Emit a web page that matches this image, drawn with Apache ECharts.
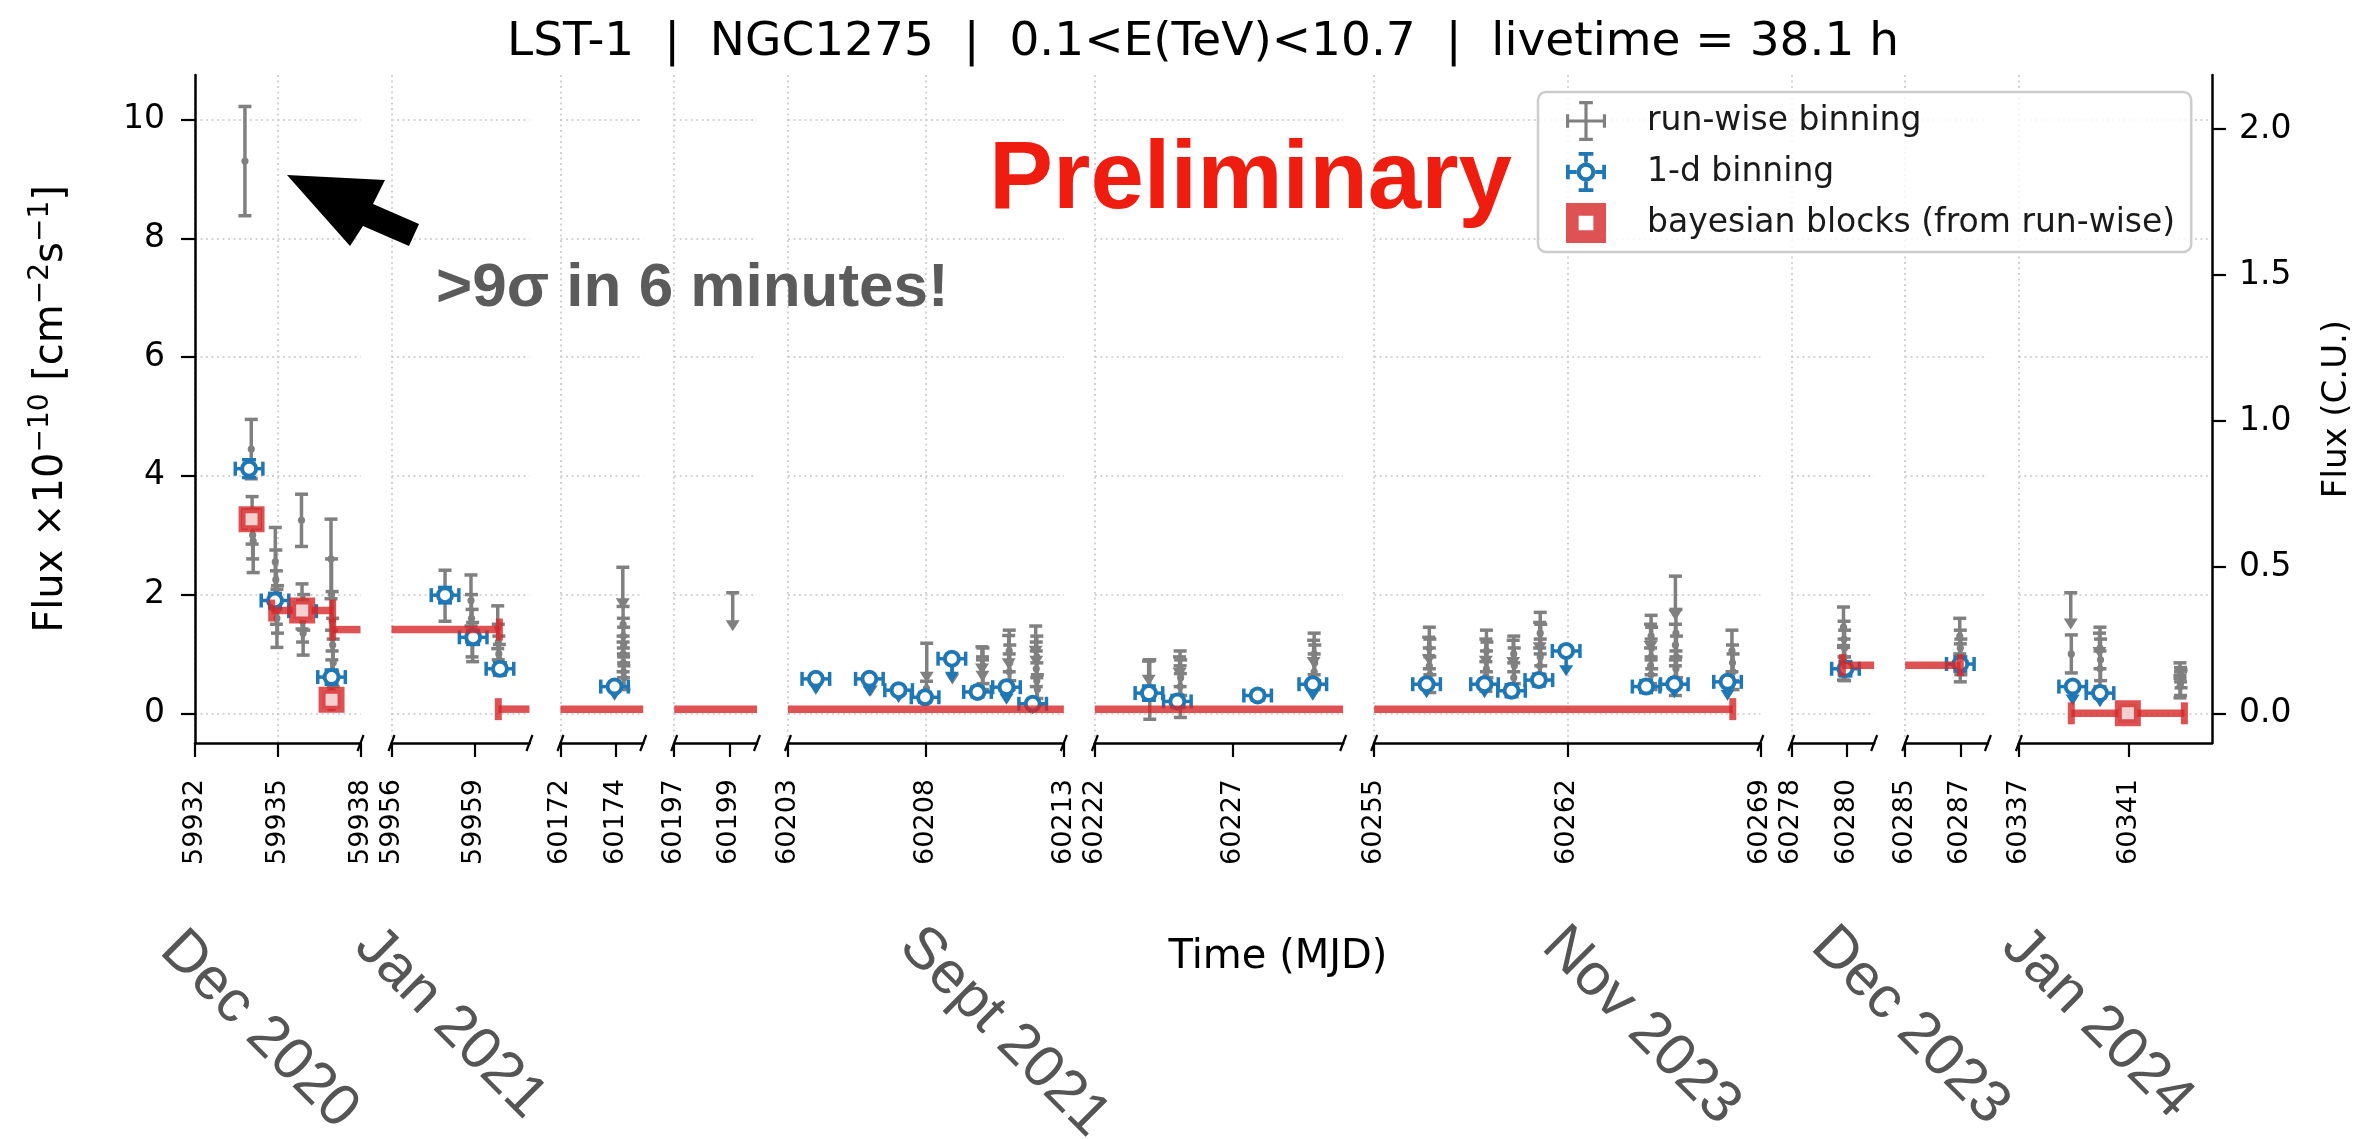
<!DOCTYPE html>
<html lang="en">
<head>
<meta charset="utf-8">
<title>LST-1 NGC1275 light curve</title>
<script src="https://cdn.jsdelivr.net/npm/echarts@6/dist/echarts.min.js"></script>
<style>
  html, body { margin: 0; padding: 0; background: #ffffff; }
  #chart { width: 2372px; height: 1139px; }
</style>
</head>
<body>
<div id="chart"></div>
<script>
// ---------------------------------------------------------------------------
// Data
// ---------------------------------------------------------------------------
// Observation windows (MJD), each drawn as one panel of a broken time axis
const panelStart = [59932, 59956, 60172, 60197, 60203, 60222, 60255, 60278, 60285, 60337];
const panelEnd   = [59938, 59961, 60175, 60200, 60213, 60231, 60269, 60281, 60288, 60344];
const panelTicks = [
  [59932, 59935, 59938], [59956, 59959], [60172, 60174], [60197, 60199],
  [60203, 60208, 60213], [60222, 60227], [60255, 60262, 60269],
  [60278, 60280], [60285, 60287], [60337, 60341]
];
const fluxTicks = [0, 2, 4, 6, 8, 10];
const crabTicks = [0, 0.5, 1.0, 1.5, 2.0];
const fluxRange = [-0.5, 10.75];
const crabFlux = 4.92;            // 1 C.U. expressed in 1e-10 cm^-2 s^-1

// Run-wise binning: time (MJD), flux (1e-10 cm^-2 s^-1), error (or arrow length for ULs), upper-limit flag
const runTime = [
  59933.81, 59934.04, 59934.07, 59934.09, 59934.11,
  59934.91, 59934.93, 59934.95, 59934.97, 59934.99,
  59935.86, 59935.88, 59935.90, 59935.92, 59935.94,
  59936.93, 59936.95, 59936.97, 59936.99, 59937.01, 59936.96,
  59957.94, 59958.88, 59958.90, 59958.92, 59958.94,
  59959.85, 59959.87, 59959.89, 59959.91,
  60174.26, 60174.27, 60174.28, 60174.29, 60174.27, 60174.28, 60174.29, 60174.30,
  60199.12,
  60204.05, 60206.00, 60208.03, 60208.02, 60208.96,
  60210.03, 60210.05, 60210.07, 60210.05,
  60211.00, 60211.02, 60211.04, 60211.02,
  60211.98, 60212.00, 60212.02, 60212.00, 60212.02, 60212.04,
  60223.95, 60223.97, 60223.99,
  60225.07, 60225.09, 60225.11, 60225.09, 60225.10,
  60229.93, 60229.95, 60229.97, 60229.95,
  60256.98, 60257.00, 60257.02, 60257.00, 60257.02,
  60259.05, 60259.07, 60259.09, 60259.07, 60259.05,
  60260.04, 60260.06, 60260.08, 60260.06,
  60261.00, 60261.02, 60261.04, 60261.02, 60261.00,
  60265.02, 60265.04, 60265.06, 60265.04, 60265.02, 60265.04,
  60265.92, 60265.94, 60265.92, 60265.96, 60265.94, 60265.92,
  60267.97, 60267.99, 60268.01,
  60279.89, 60279.91, 60279.93, 60279.91, 60279.89, 60279.93,
  60286.98, 60287.00, 60287.02, 60287.00,
  60338.88, 60338.90,
  60339.92, 60339.94, 60339.96, 60339.94,
  60342.84, 60342.86, 60342.88, 60342.86, 60342.84
];
const runFlux = [
  9.30, 4.45, 3.25, 3.00, 2.90,
  2.55, 2.25, 1.95, 1.60, 1.75,
  3.25, 1.80, 1.55, 1.35, 1.70,
  2.60, 2.00, 1.55, 1.15, 0.85, 0.60,
  1.98, 1.90, 1.60, 1.35, 1.20,
  1.45, 1.20, 1.00, 0.90,
  2.46, 1.50, 1.30, 1.15, 1.00, 0.85, 0.70, 0.60,
  2.03,
  0.62, 0.60, 1.18, 0.42, 0.95,
  1.12, 0.95, 0.80, 0.65,
  1.31, 1.05, 0.85, 0.70,
  1.47, 1.20, 0.95, 0.75, 0.55, 0.40,
  0.88, 0.60, 0.40,
  0.95, 0.75, 0.60, 0.45, 0.30,
  1.23, 1.00, 0.85, 0.70,
  1.28, 1.10, 0.95, 0.80, 0.65,
  1.25, 1.05, 0.90, 0.75, 0.62,
  1.23, 1.00, 0.80, 0.60,
  1.53, 1.35, 1.15, 0.95, 0.80,
  1.50, 1.30, 1.10, 0.95, 0.80, 0.65,
  2.31, 1.35, 1.15, 0.95, 0.75, 0.60,
  1.05, 0.85, 0.70,
  1.45, 1.25, 1.10, 0.95, 0.85, 0.75,
  1.30, 1.10, 0.95, 0.85,
  2.03, 1.00,
  1.35, 1.10, 0.90, 0.75,
  0.72, 0.65, 0.58, 0.50, 0.45
];
const runErr = [
  0.92, 0.50, 0.40, 0.40, 0.53,
  0.58, 0.50, 0.45, 0.49, 0.40,
  0.44, 0.38, 0.35, 0.37, 0.30,
  0.67, 0.60, 0.50, 0.45, 0.40, 0.30,
  0.43, 0.43, 0.40, 0.40, 0.33,
  0.36, 0.30, 0.30, 0.26,
  0.69, 0.30, 0.30, 0.30, 0.30, 0.25, 0.25, 0.20,
  0.63,
  0.25, 0.30, 0.65, 0.12, 0.45,
  0.45, 0.40, 0.30, 0.25,
  0.55, 0.35, 0.30, 0.30,
  0.50, 0.40, 0.35, 0.30, 0.30, 0.25,
  0.40, 0.30, 0.50,
  0.35, 0.30, 0.30, 0.35, 0.37,
  0.45, 0.35, 0.30, 0.30,
  0.45, 0.35, 0.30, 0.30, 0.30,
  0.45, 0.35, 0.30, 0.30, 0.25,
  0.45, 0.30, 0.30, 0.25,
  0.50, 0.35, 0.35, 0.30, 0.30,
  0.45, 0.35, 0.35, 0.30, 0.30, 0.25,
  0.73, 0.40, 0.35, 0.35, 0.30, 0.30,
  0.35, 0.30, 0.30,
  0.34, 0.30, 0.30, 0.30, 0.29, 0.20,
  0.30, 0.30, 0.30, 0.32,
  0.60, 0.32,
  0.40, 0.35, 0.35, 0.30,
  0.13, 0.12, 0.15, 0.20, 0.19
];
const runUL = [
  0, 0, 0, 0, 0,
  0, 0, 0, 0, 0,
  0, 0, 0, 0, 0,
  0, 0, 0, 0, 0, 0,
  0, 0, 0, 0, 0,
  0, 0, 0, 0,
  1, 0, 0, 0, 0, 0, 0, 0,
  1,
  1, 1, 1, 0, 1,
  1, 1, 0, 0,
  1, 0, 0, 0,
  1, 1, 0, 0, 0, 0,
  1, 0, 0,
  1, 0, 0, 0, 0,
  1, 0, 0, 0,
  1, 0, 0, 0, 0,
  1, 0, 0, 0, 0,
  1, 0, 0, 0,
  1, 0, 0, 0, 0,
  1, 0, 0, 0, 0, 0,
  1, 0, 0, 0, 0, 0,
  0, 0, 0,
  0, 0, 0, 0, 0, 0,
  0, 0, 0, 0,
  1, 0,
  1, 0, 0, 0,
  0, 0, 0, 0, 0
];

// 1-day binning: time (MJD), flux, error (or arrow length for ULs), upper-limit flag
const dayTime = [
  59933.96, 59934.90, 59935.90, 59936.95,
  59957.94, 59958.96, 59959.93,
  60173.96,
  60204.01, 60205.95, 60207.01, 60207.97, 60208.94, 60209.87, 60210.92, 60211.87,
  60223.96, 60224.99, 60227.90, 60229.90,
  60256.90, 60259.00, 60259.98, 60260.97, 60261.96, 60264.86, 60265.88, 60267.81,
  60279.96, 60287.00,
  60338.95, 60339.94
];
const dayFlux = [
  4.12, 1.90, 1.72, 0.61,
  1.99, 1.28, 0.75,
  0.45,
  0.58, 0.58, 0.39, 0.27, 0.92, 0.36, 0.44, 0.16,
  0.34, 0.20, 0.30, 0.49,
  0.49, 0.49, 0.38, 0.56, 1.05, 0.45, 0.49, 0.53,
  0.75, 0.83,
  0.45, 0.34
];
const dayErr = [
  0.15, 0.12, 0.10, 0.12,
  0.13, 0.12, 0.10,
  0.22,
  0.25, 0.28, 0.20, 0.08, 0.39, 0.08, 0.28, 0.16,
  0.12, 0.10, 0.08, 0.26,
  0.22, 0.22, 0.10, 0.10, 0.41, 0.10, 0.22, 0.30,
  0.12, 0.12,
  0.30, 0.22
];
const dayUL = [
  0, 0, 0, 0,
  0, 0, 0,
  1,
  1, 1, 1, 0, 1, 0, 1, 1,
  0, 0, 0, 1,
  1, 1, 0, 0, 1, 0, 1, 1,
  0, 0,
  1, 1
];
const dayBinHalfWidth = 0.5;

// Bayesian blocks (from run-wise): block edges (MJD), flux, error
const blockStart = [59933.80, 59934.78, 59936.92, 59936.99, 59959.87, 60279.85, 60338.90];
const blockEnd   = [59934.30, 59936.99, 59936.98, 59959.91, 60268.00, 60287.00, 60343.00];
const blockFlux  = [3.27, 1.73, 0.23, 1.41, 0.07, 0.81, 0.00];
const blockErr   = [0.10, 0.08, 0.10, 0.05, 0.02, 0.05, 0.05];

// Observing seasons written under the time axis
const seasonNames = ['Dec 2020', 'Jan 2021', 'Sept 2021', 'Nov 2023', 'Dec 2023', 'Jan 2024'];

// ---------------------------------------------------------------------------
// Styling and layout
// ---------------------------------------------------------------------------
const GRAY = '#808080';
const BLUE = '#1f77b4';
const RED = 'rgba(214,39,40,0.8)';
const RED_FACE = '#f4d0d0';
const FONT = "'DejaVu Sans', sans-serif";
const HELV = "'Liberation Sans', Arial, sans-serif";

const plotLeft = 195, plotRight = 2212, plotTop = 75, plotBottom = 743, panelGap = 31;
const nPanels = panelStart.length;
let totalDays = 0;
for (let i = 0; i < nPanels; i++) totalDays += panelEnd[i] - panelStart[i];
const pxPerDay = (plotRight - plotLeft - panelGap * (nPanels - 1)) / totalDays;
const panelLeft = [], panelWidth = [];
{
  let cursor = plotLeft;
  for (let i = 0; i < nPanels; i++) {
    const w = (panelEnd[i] - panelStart[i]) * pxPerDay;
    panelLeft.push(cursor);
    panelWidth.push(w);
    cursor += w + panelGap;
  }
}

const gridLine = { color: '#c8c8c8', width: 1.6, type: [2, 3.5] };
const axisStroke = { color: '#000', width: 2.5 };
const tickStroke = { color: '#000', width: 2.2 };

// ---------------------------------------------------------------------------
// Mark renderers
// ---------------------------------------------------------------------------
function seg(x1, y1, x2, y2, stroke, lw) {
  return { type: 'line', shape: { x1, y1, x2, y2 }, style: { stroke, lineWidth: lw, lineCap: 'butt' } };
}
function inside(px, cs) { return px >= cs.x - 0.5 && px <= cs.x + cs.width + 0.5; }
function clampX(px, cs) { return Math.min(Math.max(px, cs.x), cs.x + cs.width); }

const RUN_LW = 3.5, RUN_CAP = 6.5;

function renderRun(params, api) {
  const cs = params.coordSys;
  const t = api.value(0), f = api.value(1), e = api.value(2), ul = api.value(3);
  const p = api.coord([t, f]);
  if (!inside(p[0], cs)) return null;
  const x = p[0], y = p[1];
  const kids = [];
  if (ul) {
    const yb = api.coord([t, f - e])[1];
    kids.push(seg(x, y, x, yb - 6, GRAY, RUN_LW));
    kids.push(seg(x - RUN_CAP, y, x + RUN_CAP, y, GRAY, RUN_LW));
    kids.push({ type: 'polygon', shape: { points: [[x - 7, yb - 10], [x + 7, yb - 10], [x, yb + 1]] }, style: { fill: GRAY } });
  } else {
    const yt = api.coord([t, f + e])[1], yb = api.coord([t, f - e])[1];
    kids.push(seg(x, yt, x, yb, GRAY, RUN_LW));
    kids.push(seg(x - RUN_CAP, yt, x + RUN_CAP, yt, GRAY, RUN_LW));
    kids.push(seg(x - RUN_CAP, yb, x + RUN_CAP, yb, GRAY, RUN_LW));
    kids.push({ type: 'circle', shape: { cx: x, cy: y, r: 3.6 }, style: { fill: GRAY } });
  }
  return { type: 'group', children: kids };
}

function renderDay(params, api) {
  const cs = params.coordSys;
  const t = api.value(0), f = api.value(1), e = api.value(2), ul = api.value(3);
  const p = api.coord([t, f]);
  if (!inside(p[0], cs)) return null;
  const x = p[0], y = p[1];
  const xl = clampX(api.coord([t - dayBinHalfWidth, f])[0], cs);
  const xr = clampX(api.coord([t + dayBinHalfWidth, f])[0], cs);
  const kids = [
    seg(xl, y, xr, y, BLUE, 3.5),
    seg(xl, y - 7, xl, y + 7, BLUE, 3.5),
    seg(xr, y - 7, xr, y + 7, BLUE, 3.5)
  ];
  if (ul) {
    const yb = api.coord([t, f - e])[1];
    kids.push(seg(x, y, x, yb - 7, BLUE, 3.5));
    kids.push({ type: 'polygon', shape: { points: [[x - 7, yb - 10], [x + 7, yb - 10], [x, yb + 1]] }, style: { fill: BLUE } });
  } else {
    const yt = api.coord([t, f + e])[1], yb = api.coord([t, f - e])[1];
    kids.push(seg(x, yt, x, yb, BLUE, 3.5));
    kids.push(seg(x - 7, yt, x + 7, yt, BLUE, 3.5));
    kids.push(seg(x - 7, yb, x + 7, yb, BLUE, 3.5));
  }
  kids.push({ type: 'circle', shape: { cx: x, cy: y, r: 7 }, style: { fill: '#ffffff', stroke: BLUE, lineWidth: 4 } });
  return { type: 'group', children: kids };
}

function renderBlock(params, api) {
  const cs = params.coordSys;
  const t0 = api.value(0), t1 = api.value(1), f = api.value(2), e = api.value(3);
  const a = api.coord([t0, f]), b = api.coord([t1, f]);
  if (b[0] < cs.x - 0.5 || a[0] > cs.x + cs.width + 0.5) return null;
  const y = a[1];
  const kids = [seg(clampX(a[0], cs), y, clampX(b[0], cs), y, RED, 7.5)];
  if (inside(a[0], cs)) kids.push(seg(a[0], y - 11, a[0], y + 11, RED, 7));
  if (inside(b[0], cs)) kids.push(seg(b[0], y - 11, b[0], y + 11, RED, 7));
  const tc = (t0 + t1) / 2;
  const c = api.coord([tc, f]);
  if (inside(c[0], cs)) {
    const yt = api.coord([tc, f + e])[1], yb = api.coord([tc, f - e])[1];
    kids.push(seg(c[0], yt, c[0], yb, RED, 7));
    kids.push({ type: 'rect', shape: { x: c[0] - 9.5, y: y - 9.5, width: 19, height: 19 },
                style: { fill: RED_FACE, stroke: RED, lineWidth: 7 } });
  }
  return { type: 'group', children: kids };
}

// ---------------------------------------------------------------------------
// Option
// ---------------------------------------------------------------------------
const runData = runTime.map((t, i) => [t, runFlux[i], runErr[i], runUL[i]]);
const dayData = dayTime.map((t, i) => [t, dayFlux[i], dayErr[i], dayUL[i]]);
const blockData = blockStart.map((t, i) => [t, blockEnd[i], blockFlux[i], blockErr[i]]);

const grid = panelLeft.map((l, i) => ({
  left: l, top: plotTop, width: panelWidth[i], height: plotBottom - plotTop,
  containLabel: false, outerBoundsMode: 'none'
}));

const xAxis = panelStart.map((s, i) => ({
  type: 'value', gridIndex: i, min: s, max: panelEnd[i],
  axisLine: { show: true, onZero: false, lineStyle: axisStroke },
  axisTick: { show: true, length: 14, customValues: panelTicks[i], lineStyle: tickStroke },
  axisLabel: {
    show: true, rotate: 90, margin: 36, customValues: panelTicks[i],
    formatter: v => String(v), color: '#000', fontFamily: FONT, fontSize: 27
  },
  splitLine: { show: true, showMaxLine: false, lineStyle: gridLine }
}));

const yAxis = panelStart.map((s, i) => ({
  type: 'value', gridIndex: i, position: 'left', min: fluxRange[0], max: fluxRange[1],
  axisLine: { show: i === 0, onZero: false, lineStyle: axisStroke },
  axisTick: { show: i === 0, length: 14, customValues: fluxTicks, lineStyle: tickStroke },
  axisLabel: {
    show: i === 0, margin: 30, customValues: fluxTicks,
    formatter: v => String(v), color: '#000', fontFamily: FONT, fontSize: 33
  },
  splitLine: { show: true, lineStyle: gridLine },
  name: i === 0 ? '{t|Flux ×10}{s|−10}{t| [cm}{s|−2}{t|s}{s|−1}{t|]}' : '',
  nameLocation: 'middle', nameGap: 118, nameRotate: 90,
  nameTextStyle: {
    rich: {
      t: { fontFamily: FONT, fontSize: 40, color: '#000', lineHeight: 50 },
      s: { fontFamily: FONT, fontSize: 28, color: '#000', lineHeight: 30, verticalAlign: 'top' }
    }
  }
}));
yAxis.push({
  type: 'value', gridIndex: nPanels - 1, position: 'right',
  min: fluxRange[0] / crabFlux, max: fluxRange[1] / crabFlux,
  axisLine: { show: true, onZero: false, lineStyle: axisStroke },
  axisTick: { show: true, length: 14, customValues: crabTicks, lineStyle: tickStroke },
  axisLabel: {
    show: true, margin: 27, customValues: crabTicks,
    formatter: v => v.toFixed(1), color: '#000', fontFamily: FONT, fontSize: 33
  },
  splitLine: { show: false },
  name: 'Flux (C.U.)', nameLocation: 'middle', nameGap: 108, nameRotate: 90,
  nameTextStyle: { fontFamily: FONT, fontSize: 34, color: '#000' }
});

const series = [];
for (let i = 0; i < nPanels; i++) {
  series.push({
    type: 'custom', name: 'run-wise binning', xAxisIndex: i, yAxisIndex: i,
    renderItem: renderRun, data: runData, z: 2, silent: true,
    itemStyle: { color: GRAY }, encode: { x: 0, y: 1 }
  });
  series.push({
    type: 'custom', name: '1-d binning', xAxisIndex: i, yAxisIndex: i,
    renderItem: renderDay, data: dayData, z: 3, silent: true,
    itemStyle: { color: BLUE }, encode: { x: 0, y: 1 }
  });
  series.push({
    type: 'custom', name: 'bayesian blocks (from run-wise)', xAxisIndex: i, yAxisIndex: i,
    renderItem: renderBlock, data: blockData, z: 4, silent: true,
    itemStyle: { color: RED }, encode: { x: [0, 1], y: 2 }
  });
}

// Legend glyphs: error-bar cross, cross with open circle, square with light centre
const ICON_RUN = 'path://M18.5,1h3v38h-3z M1,18.5h38v3h-38z M13.5,1h13v3h-13z M13.5,36h13v3h-13z M1,13.5h3v13h-3z M36,13.5h3v13h-3z';
const ICON_DAY = 'path://M18.2,1h3.6v10h-3.6z M18.2,29h3.6v10h-3.6z M1,18.2h10v3.6h-10z M29,18.2h10v3.6h-10z ' +
  'M13,1h14v3.6h-14z M13,35.4h14v3.6h-14z M1,13h3.6v14h-3.6z M35.4,13h3.6v14h-3.6z ' +
  'M11,20a9,9 0 1,1 18,0a9,9 0 1,1 -18,0z M15,20a5,5 0 1,0 10,0a5,5 0 1,0 -10,0z';
const ICON_BLOCK = 'path://M1,1h38v38h-38z M13,13v14h14v-14z';

// Break markers on the time axis and free text
const graphic = [];
for (let i = 0; i < nPanels; i++) {
  const edges = [];
  if (i > 0) edges.push(panelLeft[i]);
  if (i < nPanels - 1) edges.push(panelLeft[i] + panelWidth[i]);
  edges.forEach(x => graphic.push({
    type: 'line', silent: true, z: 30,
    shape: { x1: x - 3, y1: plotBottom + 8, x2: x + 3, y2: plotBottom - 8 },
    style: { stroke: '#000', lineWidth: 2.2 }
  }));
}
graphic.push({
  type: 'polygon', silent: true, z: 30,
  shape: { points: [[287, 175], [385, 180], [373, 204], [419, 224], [409, 246], [363, 226], [350, 246]] },
  style: { fill: '#000' }
});
graphic.push({
  type: 'text', silent: true, z: 30, x: 436, y: 289,
  style: { text: '>9σ in 6 minutes!', fill: '#5b5b5b', fontFamily: HELV, fontWeight: 'bold', fontSize: 62,
           align: 'left', verticalAlign: 'middle' }
});
graphic.push({
  type: 'text', silent: true, z: 30, x: 989, y: 182,
  style: { text: 'Preliminary', fill: '#ee1d10', fontFamily: HELV, fontWeight: 'bold', fontSize: 96,
           align: 'left', verticalAlign: 'middle' }
});
graphic.push({
  type: 'text', silent: true, z: 30, x: 1278, y: 958,
  style: { text: 'Time (MJD)', fill: '#000', fontFamily: FONT, fontSize: 40, align: 'center', verticalAlign: 'middle' }
});
const seasonPos = [[259, 1030], [450, 1023], [1004, 1032], [1641, 1026], [1910, 1026], [2097, 1023]];
seasonNames.forEach((s, i) => graphic.push({
  type: 'text', silent: true, z: 30, x: seasonPos[i][0], y: seasonPos[i][1], rotation: -Math.PI / 4,
  style: { text: s, fill: '#555555', fontFamily: HELV, fontSize: 59, align: 'center', verticalAlign: 'middle' }
}));

const option = {
  animation: false,
  backgroundColor: '#ffffff',
  textStyle: { fontFamily: FONT },
  title: {
    text: 'LST-1  |  NGC1275  |  0.1<E(TeV)<10.7  |  livetime = 38.1 h',
    left: 1203, top: 19, textAlign: 'center', padding: 0,
    textStyle: { fontFamily: FONT, fontSize: 47, fontWeight: 'normal', color: '#000' }
  },
  legend: {
    orient: 'vertical', left: 1538, top: 92,
    padding: [9, 16, 9, 28], itemGap: 11, itemWidth: 40, itemHeight: 40,
    backgroundColor: 'rgba(255,255,255,0.8)', borderColor: '#cccccc', borderWidth: 2.5, borderRadius: 8,
    selectedMode: false, z: 20,
    textStyle: { fontFamily: FONT, fontSize: 33, color: '#1a1a1a', padding: [0, 0, 0, 36] },
    data: [
      { name: 'run-wise binning', icon: ICON_RUN, itemStyle: { color: GRAY } },
      { name: '1-d binning', icon: ICON_DAY, itemStyle: { color: BLUE } },
      { name: 'bayesian blocks (from run-wise)', icon: ICON_BLOCK, itemStyle: { color: RED } }
    ]
  },
  grid, xAxis, yAxis, series, graphic
};

const chart = echarts.init(document.getElementById('chart'), null, { renderer: 'canvas' });
chart.setOption(option);
</script>
</body>
</html>
